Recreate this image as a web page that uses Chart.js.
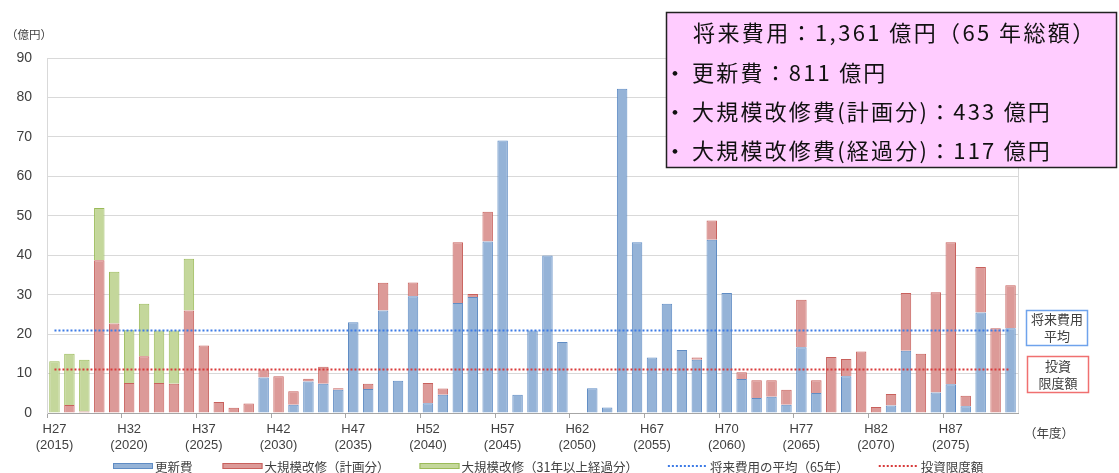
<!DOCTYPE html>
<html lang="ja">
<head>
<meta charset="utf-8">
<script src="https://cdn.jsdelivr.net/npm/chart.js@4.4.1/dist/chart.umd.min.js"></script>
<style>
  html, body { margin: 0; padding: 0; background: #ffffff; }
  canvas { display: block; }
</style>
</head>
<body>
<canvas id="cost" width="1119" height="473"></canvas>
<script>
// Fiscal years on the category axis (H27 = 2015 ... H91 = 2079)
const YEARS = [
  2015, 2016, 2017, 2018, 2019, 2020, 2021, 2022, 2023, 2024,
  2025, 2026, 2027, 2028, 2029, 2030, 2031, 2032, 2033, 2034,
  2035, 2036, 2037, 2038, 2039, 2040, 2041, 2042, 2043, 2044,
  2045, 2046, 2047, 2048, 2049, 2050, 2051, 2052, 2053, 2054,
  2055, 2056, 2057, 2058, 2059, 2060, 2061, 2062, 2063, 2064,
  2065, 2066, 2067, 2068, 2069, 2070, 2071, 2072, 2073, 2074,
  2075, 2076, 2077, 2078, 2079
];

// Axis labels shown every five years
const TICK_LABELS = [
  ['H27', '(2015)'], ['H32', '(2020)'], ['H37', '(2025)'], ['H42', '(2030)'],
  ['H47', '(2035)'], ['H52', '(2040)'], ['H57', '(2045)'], ['H62', '(2050)'],
  ['H67', '(2055)'], ['H70', '(2060)'], ['H77', '(2065)'], ['H82', '(2070)'],
  ['H87', '(2075)']
];

// 更新費 (億円)
const RENEWAL = [
  0, 0, 0, 0, 0, 0, 0, 0, 0, 0,
  0, 0, 0, 0, 9.0, 0, 2.1, 8.0, 7.4, 5.9,
  23.0, 6.1, 26.0, 8.2, 29.6, 2.5, 4.6, 27.9, 29.4, 43.5,
  69.1, 4.6, 20.9, 39.9, 18.0, 0, 6.3, 1.4, 82.2, 43.3,
  14.1, 27.7, 16.0, 13.5, 43.9, 30.4, 8.6, 3.8, 4.1, 2.1,
  16.7, 5.1, 0, 9.3, 0, 0, 1.9, 15.8, 0, 5.2,
  7.3, 1.7, 25.5, 0, 21.5
];

// 大規模改修（計画分） (億円)
const PLANNED = [
  0, 2.0, 0.4, 38.7, 22.7, 7.6, 14.4, 7.6, 7.4, 26.0,
  17.1, 2.8, 1.3, 2.4, 2.0, 9.3, 3.4, 0.7, 4.3, 0.4,
  0, 1.3, 7.0, 0, 3.5, 5.1, 1.6, 15.4, 0.8, 7.5,
  0, 0, 0, 0, 0, 0, 0, 0, 0, 0,
  0, 0, 0, 0.6, 4.9, 0, 1.7, 4.5, 4.2, 3.8,
  12.0, 3.2, 14.2, 4.4, 15.6, 1.5, 2.9, 14.6, 15.0, 25.4,
  36.0, 2.7, 11.5, 21.5, 10.9
];

// 大規模改修（31年以上経過分） (億円)
const OVERDUE = [
  13.1, 13.0, 13.1, 13.3, 13.1, 13.4, 13.3, 13.3, 13.5, 13.1,
  0, 0, 0, 0, 0, 0, 0, 0, 0, 0,
  0, 0, 0, 0, 0, 0, 0, 0, 0, 0,
  0, 0, 0, 0, 0, 0, 0, 0, 0, 0,
  0, 0, 0, 0, 0, 0, 0, 0, 0, 0,
  0, 0, 0, 0, 0, 0, 0, 0, 0, 0,
  0, 0, 0, 0, 0
];

// Reference levels (億円/年)
const AVERAGE_COST = 20.9;     // 将来費用の平均（65年）
const INVESTMENT_LIMIT = 11.0; // 投資限度額

// Summary box text
const SUMMARY_TITLE = '将来費用：1,361 億円（65 年総額）';
const SUMMARY_ITEMS = [
  '更新費：811 億円',
  '大規模改修費(計画分)：433 億円',
  '大規模改修費(経過分)：117 億円'
];

const LATIN = "'Liberation Sans', 'Noto Sans CJK JP', sans-serif";
const CJK = "'Noto Sans CJK JP', sans-serif";
const TEXT = '#404040';

// Annotations, summary panel and the legend drawn around the plot
const decorations = {
  id: 'decorations',
  beforeDatasetsDraw(chart) {
    const { ctx, chartArea } = chart;
    ctx.save();
    ctx.strokeStyle = '#d9d9d9';
    ctx.lineWidth = 1;
    ctx.beginPath();
    ctx.moveTo(Math.round(chartArea.right) + 0.5, chartArea.top);
    ctx.lineTo(Math.round(chartArea.right) + 0.5, chartArea.bottom);
    ctx.stroke();
    ctx.restore();
  },
  afterDraw(chart) {
    const { ctx } = chart;
    ctx.save();
    ctx.textBaseline = 'middle';

    // unit labels
    ctx.fillStyle = TEXT;
    ctx.font = '11.5px ' + CJK;
    ctx.textAlign = 'left';
    ctx.fillText('（億円）', 6, 35);
    ctx.font = '12.5px ' + CJK;
    ctx.fillText('（年度）', 1024, 433);

    // labels for the two reference lines
    const tag = (x, y, w, h, color, lines) => {
      ctx.fillStyle = '#ffffff';
      ctx.fillRect(x, y, w, h);
      ctx.strokeStyle = color;
      ctx.lineWidth = 1.5;
      ctx.strokeRect(x, y, w, h);
      ctx.fillStyle = TEXT;
      ctx.font = '13px ' + CJK;
      ctx.textAlign = 'center';
      lines.forEach((t, i) => ctx.fillText(t, x + w / 2, y + h / 2 + (i - (lines.length - 1) / 2) * 17));
    };
    tag(1026.5, 310.5, 61, 35, '#6fa3ec', ['将来費用', '平均']);
    tag(1027.5, 356.5, 61, 36, '#f07070', ['投資', '限度額']);

    // summary panel
    ctx.fillStyle = '#ffccff';
    ctx.fillRect(666, 12, 451, 156);
    ctx.strokeStyle = '#222222';
    ctx.lineWidth = 1.5;
    ctx.strokeRect(666.5, 12.5, 450, 155);
    ctx.fillStyle = '#111111';
    ctx.font = '22px ' + CJK;
    ctx.textAlign = 'left';
    ctx.letterSpacing = '2.4px';
    ctx.fillText(SUMMARY_TITLE, 693, 33);
    ctx.letterSpacing = '2.2px';
    SUMMARY_ITEMS.forEach((t, i) => {
      const y = 72.5 + i * 39;
      ctx.fillText('・', 664, y);
      ctx.fillText(t, 692, y);
    });
    ctx.letterSpacing = '0px';

    // legend
    ctx.font = '12.5px ' + CJK;
    ctx.textAlign = 'left';
    let x = 113;
    const ly = 466;
    chart.data.datasets.forEach(ds => {
      if (ds.type === 'line') {
        ctx.strokeStyle = ds.borderColor;
        ctx.lineWidth = 2;
        ctx.setLineDash(ds.borderDash);
        ctx.beginPath();
        ctx.moveTo(x, ly);
        ctx.lineTo(x + 39, ly);
        ctx.stroke();
        ctx.setLineDash([]);
      } else {
        ctx.fillStyle = ds.backgroundColor;
        ctx.fillRect(x, ly - 3, 40, 6);
        ctx.strokeStyle = ds.borderColor;
        ctx.lineWidth = 1;
        ctx.strokeRect(x + 0.5, ly - 2.5, 39, 5);
      }
      ctx.fillStyle = TEXT;
      ctx.fillText(ds.label, x + 42, ly + 1);
      x += 42 + ctx.measureText(ds.label).width + 30;
    });
    ctx.restore();
  }
};

new Chart(document.getElementById('cost'), {
  type: 'bar',
  data: {
    labels: YEARS,
    datasets: [
      { label: '更新費', data: RENEWAL, backgroundColor: '#95b3d7', borderColor: '#5f8cc4',
        borderWidth: 1, stack: 'cost', order: 1 },
      { label: '大規模改修（計画分）', data: PLANNED, backgroundColor: '#dc9a98', borderColor: '#c8605c',
        borderWidth: 1, stack: 'cost', order: 1 },
      { label: '大規模改修（31年以上経過分）', data: OVERDUE, backgroundColor: '#c4d79b', borderColor: '#9bbb59',
        borderWidth: 1, stack: 'cost', order: 1 },
      { type: 'line', label: '将来費用の平均（65年）', data: YEARS.map(() => AVERAGE_COST),
        borderColor: '#3d7be6', borderWidth: 2, borderDash: [2, 2], pointRadius: 0, fill: false,
        stack: 'average', order: 0 },
      { type: 'line', label: '投資限度額', data: YEARS.map(() => INVESTMENT_LIMIT),
        borderColor: '#d83a3a', borderWidth: 2, borderDash: [2, 2], pointRadius: 0, fill: false,
        stack: 'limit', order: 0 }
    ]
  },
  options: {
    responsive: false,
    animation: false,
    devicePixelRatio: 1,
    layout: { padding: { left: 0, right: 101, top: 58, bottom: 0 } },
    datasets: { bar: { categoryPercentage: 1, barPercentage: 0.7 } },
    plugins: { legend: { display: false }, tooltip: { enabled: false }, title: { display: false } },
    scales: {
      x: {
        stacked: true,
        offset: true,
        grid: {
          offset: true,
          drawOnChartArea: false,
          drawTicks: true,
          tickLength: 5,
          color: c => (c.index % 5 === 0 ? '#a6a6a6' : 'rgba(0,0,0,0)')
        },
        border: { color: '#a6a6a6' },
        ticks: {
          autoSkip: false, maxRotation: 0, minRotation: 0, padding: 4,
          color: TEXT, font: { family: LATIN, size: 13 },
          callback: (v, i) => (i % 5 === 0 ? TICK_LABELS[i / 5] : '')
        },
        afterFit: s => { s.height = 60; }
      },
      y: {
        stacked: true,
        min: 0,
        max: 90,
        ticks: { stepSize: 10, padding: 15, color: TEXT, font: { family: LATIN, size: 14 } },
        grid: { color: '#d9d9d9', drawTicks: false },
        border: { color: '#d9d9d9' },
        afterFit: s => { s.width = 47; }
      }
    }
  },
  plugins: [decorations]
});
</script>
</body>
</html>
